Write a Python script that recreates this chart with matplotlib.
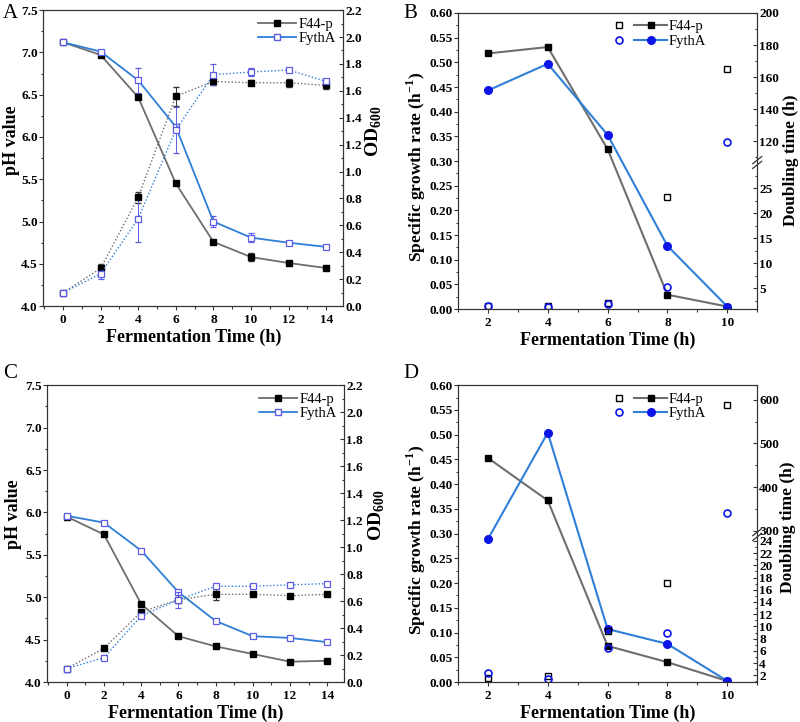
import numpy as np
import matplotlib
matplotlib.use('Agg')
import matplotlib.pyplot as plt
from matplotlib.lines import Line2D
from matplotlib.ticker import FixedLocator, MultipleLocator, FormatStrFormatter

# ---------------- data ----------------
time_ph = [0, 2, 4, 6, 8, 10, 12, 14]
time_rate = [2, 4, 6, 8, 10]
strains = ['F44-p', 'FythA']

# Panel A
A_ph_f44 = [7.12, 6.97, 6.47, 5.45, 4.76, 4.58, 4.51, 4.45]
A_ph_f44_err = [0.01, 0.02, 0.02, 0.01, 0.02, 0.05, 0.01, 0.02]
A_ph_fyth = [7.12, 7.01, 6.67, 6.12, 5.00, 4.81, 4.75, 4.70]
A_ph_fyth_err = [0.01, 0.01, 0.15, 0.03, 0.06, 0.05, 0.02, 0.01]
A_od_f44 = [0.10, 0.28, 0.81, 1.56, 1.67, 1.66, 1.66, 1.64]
A_od_f44_err = [0.005, 0.03, 0.04, 0.07, 0.03, 0.02, 0.03, 0.03]
A_od_fyth = [0.10, 0.24, 0.65, 1.31, 1.72, 1.74, 1.755, 1.67]
A_od_fyth_err = [0.005, 0.04, 0.17, 0.17, 0.08, 0.03, 0.01, 0.02]

# Panel B
B_rate_f44 = [0.518, 0.531, 0.324, 0.029, 0.005]
B_rate_fyth = [0.443, 0.497, 0.353, 0.128, 0.005]
B_dt_f44 = [1.34, 1.31, 2.1, 23.3, 165]
B_dt_fyth = [1.5, 1.3, 1.9, 5.3, 119.5]

# Panel C
C_ph_f44 = [5.95, 5.74, 4.92, 4.54, 4.42, 4.33, 4.24, 4.25]
C_ph_f44_err = [0.01, 0.01, 0.01, 0.01, 0.01, 0.01, 0.01, 0.01]
C_ph_fyth = [5.96, 5.88, 5.55, 5.06, 4.72, 4.54, 4.52, 4.47]
C_ph_fyth_err = [0.01, 0.01, 0.01, 0.01, 0.01, 0.01, 0.01, 0.01]
C_od_f44 = [0.10, 0.25, 0.52, 0.61, 0.65, 0.65, 0.64, 0.65]
C_od_f44_err = [0.005, 0.005, 0.01, 0.01, 0.04, 0.01, 0.01, 0.01]
C_od_fyth = [0.10, 0.18, 0.49, 0.61, 0.71, 0.71, 0.72, 0.73]
C_od_fyth_err = [0.01, 0.01, 0.01, 0.06, 0.01, 0.01, 0.01, 0.01]

# Panel D
D_rate_f44 = [0.453, 0.367, 0.073, 0.040, 0.002]
D_rate_fyth = [0.289, 0.504, 0.107, 0.077, 0.002]
D_dt_f44 = [1.5, 1.85, 9.3, 17.1, 588]
D_dt_fyth = [2.4, 1.35, 6.4, 9.0, 341]

# ---------------- style ----------------
plt.rcParams['font.family'] = ['Liberation Serif', 'DejaVu Serif']
plt.rcParams['mathtext.fontset'] = 'custom'
plt.rcParams['mathtext.rm'] = 'Liberation Serif'
plt.rcParams['mathtext.bf'] = 'Liberation Serif:bold'
plt.rcParams['axes.linewidth'] = 0.8
plt.rcParams['axes.edgecolor'] = '#333333'

GRAY = '#6e6e6e'
BLUE = '#2f7fd8'
PURP = '#5c5ce6'
DBLUE = '#0c14e8'
TICK_FS = 9.5
XLAB_FS = 13
YLAB_FS = 12.5

fig = plt.figure(figsize=(8.0, 7.22), dpi=100)


def style_ticks(ax, direction):
    ax.tick_params(axis='both', which='major', direction=direction, length=3,
                   width=0.8, labelsize=TICK_FS, color='#333333', pad=1.0)
    ax.tick_params(axis='both', which='minor', direction=direction, length=1.8,
                   width=0.8, color='#333333')
    ax.tick_params(axis='x', top=False, which='both', pad=2.5,
                   direction='out')
    if direction == 'in':
        ax.tick_params(axis='y', which='major', pad=1.5)


def bold_labels(ax):
    for lab in ax.get_xticklabels() + ax.get_yticklabels():
        lab.set_fontweight('bold')


def ph_panel(rect, ph_f44, ph_f44_err, ph_fyth, ph_fyth_err,
             od_f44, od_f44_err, od_fyth, od_fyth_err, lab_pos):
    ax = fig.add_axes(rect)
    ax2 = ax.twinx()
    ax.errorbar(time_ph, ph_f44, yerr=ph_f44_err, color=GRAY, lw=1.3,
                marker='s', ms=5, mfc='black', mec='black', ecolor='#333333',
                elinewidth=0.7, capsize=2.5, zorder=3)
    ax.errorbar(time_ph, ph_fyth, yerr=ph_fyth_err, color=BLUE, lw=1.3,
                marker='s', ms=5, mfc='white', mec=PURP, mew=0.9, ecolor=PURP,
                elinewidth=0.7, capsize=2.5, zorder=3)
    ax2.errorbar(time_ph, od_f44, yerr=od_f44_err, color=GRAY, lw=1.0,
                 ls=(0, (1, 1.5)), marker='s', ms=5, mfc='black', mec='black',
                 ecolor='#333333', elinewidth=0.7, capsize=2.5)
    ax2.errorbar(time_ph, od_fyth, yerr=od_fyth_err, color=BLUE, lw=1.0,
                 ls=(0, (1, 1.5)), marker='s', ms=5, mfc='white', mec=PURP,
                 mew=0.9, ecolor=PURP, elinewidth=0.7, capsize=2.5)
    ax.set_xlim(-1.05, 14.9)
    ax.set_ylim(4.0, 7.5)
    ax2.set_ylim(0.0, 2.2)
    ax.set_xticks(time_ph)
    ax.xaxis.set_minor_locator(MultipleLocator(1))
    ax.yaxis.set_major_locator(MultipleLocator(0.5))
    ax.yaxis.set_minor_locator(MultipleLocator(0.25))
    ax.yaxis.set_major_formatter(FormatStrFormatter('%.1f'))
    ax2.yaxis.set_major_locator(MultipleLocator(0.2))
    ax2.yaxis.set_minor_locator(MultipleLocator(0.1))
    ax2.yaxis.set_major_formatter(FormatStrFormatter('%.1f'))
    style_ticks(ax, 'out')
    style_ticks(ax2, 'in')
    ax.tick_params(axis='y', which='both', right=False)
    bold_labels(ax)
    bold_labels(ax2)
    ax.set_xlabel('Fermentation Time (h)', fontsize=XLAB_FS, fontweight='bold',
                  labelpad=2)
    ax.set_ylabel('pH value', fontsize=YLAB_FS + 0.5, fontweight='bold')
    ax2.set_ylabel(r'OD$_{\mathbf{600}}$', fontsize=YLAB_FS + 1.5,
                   fontweight='bold')
    ax.yaxis.set_label_coords(lab_pos[0], lab_pos[1])
    ax2.yaxis.set_label_coords(lab_pos[2], lab_pos[3])
    handles = [Line2D([], [], color=GRAY, lw=1.3, marker='s', ms=5,
                      mfc='black', mec='black'),
               Line2D([], [], color=BLUE, lw=1.3, marker='s', ms=5,
                      mfc='white', mec=PURP)]
    ax2.legend(handles, strains, loc='upper right', frameon=False,
               fontsize=10.5, handlelength=2.6, handletextpad=0.15,
               labelspacing=0.1, borderaxespad=0.1,
               bbox_to_anchor=(1.0, 1.0))
    return ax, ax2


class PairHandler:
    def legend_artist(self, legend, orig_handle, fontsize, handlebox):
        x0, y0 = handlebox.xdescent, handlebox.ydescent
        w, h = handlebox.width, handlebox.height
        yc = y0 + h / 2
        om, ln = orig_handle
        a1 = Line2D([x0 + 0.08 * w], [yc], ls='none', marker=om.get_marker(),
                    ms=om.get_markersize(), mfc='white',
                    mec=om.get_markeredgecolor(), mew=om.get_markeredgewidth())
        a2 = Line2D([x0 + 0.36 * w, x0 + w], [yc, yc], color=ln.get_color(),
                    lw=ln.get_linewidth())
        a3 = Line2D([x0 + 0.68 * w], [yc], ls='none', marker=ln.get_marker(),
                    ms=ln.get_markersize(), mfc=ln.get_markerfacecolor(),
                    mec=ln.get_markeredgecolor())
        for a in (a1, a2, a3):
            handlebox.add_artist(a)
        return a1


def pw(x, xp, fp):
    x = np.asarray(x, dtype=float)
    y = np.interp(x, xp, fp)
    lo_s = (fp[1] - fp[0]) / (xp[1] - xp[0])
    hi_s = (fp[-1] - fp[-2]) / (xp[-1] - xp[-2])
    y = np.where(x < xp[0], fp[0] + (x - xp[0]) * lo_s, y)
    y = np.where(x > xp[-1], fp[-1] + (x - xp[-1]) * hi_s, y)
    return y


def rate_panel(rect, rate_f44, rate_fyth, dt_f44, dt_fyth, xp, fp,
               major, minor, lab_pos):
    ax = fig.add_axes(rect)
    ax2 = ax.twinx()
    l1, = ax.plot(time_rate, rate_f44, color=GRAY, lw=1.5, marker='s', ms=5,
                  mfc='black', mec='black', zorder=3)
    l2, = ax.plot(time_rate, rate_fyth, color=BLUE, lw=1.5, marker='o', ms=5.5,
                  mfc=DBLUE, mec=DBLUE, zorder=3)
    ax2.set_yscale('function', functions=(lambda v: pw(v, xp, fp),
                                          lambda v: pw(v, fp, xp)))
    o1, = ax2.plot(time_rate, dt_f44, ls='none', marker='s', ms=4.5,
                   mfc='none', mec='black', mew=1.0)
    o2, = ax2.plot(time_rate, dt_fyth, ls='none', marker='o', ms=5,
                   mfc='none', mec=DBLUE, mew=1.2)
    ax.set_xlim(1.0, 11.0)
    ax.set_ylim(0.0, 0.60)
    ax2.set_ylim(xp[0], xp[-1])
    ax.set_xticks(time_rate)
    ax.xaxis.set_minor_locator(MultipleLocator(1))
    ax.yaxis.set_major_locator(MultipleLocator(0.05))
    ax.yaxis.set_minor_locator(MultipleLocator(0.025))
    ax.yaxis.set_major_formatter(FormatStrFormatter('%.2f'))
    ax2.yaxis.set_major_locator(FixedLocator(major))
    ax2.yaxis.set_minor_locator(FixedLocator(minor))
    ax2.yaxis.set_major_formatter(FormatStrFormatter('%d'))
    style_ticks(ax, 'out')
    style_ticks(ax2, 'in')
    ax.tick_params(axis='y', which='both', right=False)
    bold_labels(ax)
    bold_labels(ax2)
    ax.set_xlabel('Fermentation Time (h)', fontsize=XLAB_FS, fontweight='bold',
                  labelpad=2)
    ax.set_ylabel(r'Specific growth rate (h$^{\mathbf{-1}}$)', fontsize=YLAB_FS,
                  fontweight='bold')
    ax2.set_ylabel('Doubling time (h)', fontsize=YLAB_FS, fontweight='bold')
    ax.yaxis.set_label_coords(lab_pos[0], lab_pos[1])
    ax2.yaxis.set_label_coords(lab_pos[2], lab_pos[3])
    # axis break mark
    yb = (fp[1] + fp[2]) / 2
    for dy in (-0.008, 0.008):
        ax2.plot([0.985, 1.015], [yb + dy - 0.012, yb + dy + 0.012],
                 transform=ax2.transAxes, color='#333333', lw=0.9,
                 clip_on=False, zorder=10)
    ax2.legend([(o1, l1), (o2, l2)], strains, handler_map={tuple: PairHandler()},
               loc='upper left', bbox_to_anchor=(0.5, 1.0), frameon=False,
               fontsize=10.5, handlelength=3.6, handletextpad=0.1,
               labelspacing=0.1, borderaxespad=0.1)
    return ax, ax2


ph_panel([0.054, 0.576, 0.375, 0.410], A_ph_f44, A_ph_f44_err, A_ph_fyth,
         A_ph_fyth_err, A_od_f44, A_od_f44_err, A_od_fyth, A_od_fyth_err,
         (-0.078, 0.56, 1.067, 0.59))
rate_panel([0.5725, 0.572, 0.374, 0.410], B_rate_f44, B_rate_fyth, B_dt_f44,
           B_dt_fyth, [0.8, 30, 107, 200], [0.0, 0.493, 0.497, 1.0],
           [5, 10, 15, 20, 25, 120, 140, 160, 180, 200],
           [2.5, 7.5, 12.5, 17.5, 22.5, 27.5, 110, 130, 150, 170, 190],
           (-0.10, 0.48, 1.087, 0.503))
ph_panel([0.059, 0.0554, 0.371, 0.411], C_ph_f44, C_ph_f44_err, C_ph_fyth,
         C_ph_fyth_err, C_od_f44, C_od_f44_err, C_od_fyth, C_od_fyth_err,
         (-0.086, 0.566, 1.077, 0.562))
rate_panel([0.5725, 0.0554, 0.374, 0.411], D_rate_f44, D_rate_fyth, D_dt_f44,
           D_dt_fyth, [0.9, 25, 292, 633], [0.0, 0.496, 0.498, 1.0],
           list(range(2, 25, 2)) + [300, 400, 500, 600],
           list(range(1, 25, 2)) + [350, 450, 550],
           (-0.10, 0.478, 1.077, 0.52))

for x, y, t in [(3, 4, 'A'), (403, 4, 'B'), (3, 364, 'C'), (403, 364, 'D')]:
    fig.text(x / 800, 1 - y / 722, t, fontsize=15, va='top', ha='left')

fig.savefig('out.png', dpi=100)
